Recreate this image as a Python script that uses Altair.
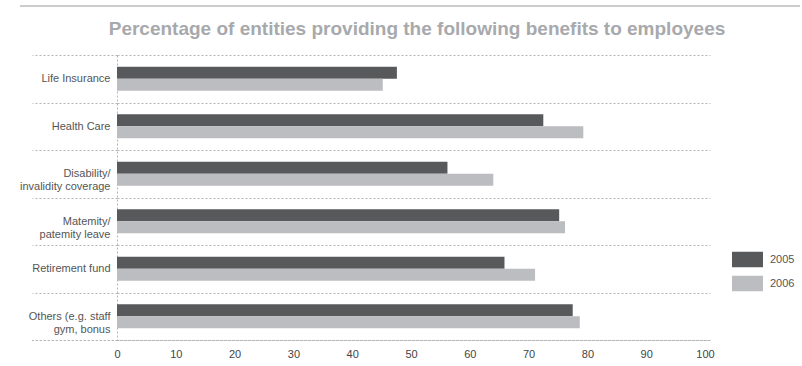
import altair as alt
import pandas as pd

categories = ["Life Insurance", "Health Care", "Disability/|invalidity coverage",
              "Matemity/|patemity leave", "Retirement fund", "Others (e.g. staff|gym, bonus"]
years = ["2005", "2006"]
values_2005 = [47.6, 72.5, 56.2, 75.2, 65.9, 77.5]
values_2006 = [45.2, 79.3, 64.0, 76.2, 71.1, 78.7]
x_ticks = [0, 10, 20, 30, 40, 50, 60, 70, 80, 90, 100]
title_text = "Percentage of entities providing the following benefits to employees"

rows = []
for c, a, b in zip(categories, values_2005, values_2006):
    rows.append({"benefit": c, "year": "2005", "pct": a})
    rows.append({"benefit": c, "year": "2006", "pct": b})
df = pd.DataFrame(rows)

DARK = "#58595b"
LIGHT = "#bcbdc0"
GRID = "#b5b5b5"
FONT = "Liberation Sans"

bars = alt.Chart(df).mark_bar(size=12).encode(
    x=alt.X("pct:Q",
            scale=alt.Scale(domain=[0, 100.85], nice=False, zero=True),
            axis=alt.Axis(values=x_ticks, title=None, domain=False, ticks=False, grid=False,
                          labelFont=FONT, labelFontSize=11, labelColor="#444444",
                          labelPadding=8, labelFlush=False)),
    y=alt.Y("benefit:N", sort=categories,
            scale=alt.Scale(paddingInner=0, paddingOuter=0),
            axis=alt.Axis(title=None, tickBand="extent", tickSize=85, tickDash=[2, 2],
                          tickColor=GRID, tickWidth=1,
                          grid=True, gridDash=[2, 2], gridColor=GRID, gridWidth=1,
                          domain=True, domainDash=[2, 2], domainColor=GRID, domainWidth=1,
                          labelPadding=-78, labelFont=FONT, labelFontSize=11,
                          labelColor="#555555", labelLineHeight=13,
                          labelExpr="split(datum.label, '|')")),
    yOffset=alt.YOffset("year:N", sort=years,
                        scale=alt.Scale(paddingInner=0, paddingOuter=0.98)),
    color=alt.Color("year:N", sort=years,
                    scale=alt.Scale(domain=years, range=[DARK, LIGHT]),
                    legend=alt.Legend(title=None, orient="none", legendX=615, legendY=189,
                                      symbolType="M-1,-0.5H1V0.5H-1Z", symbolSize=961,
                                      symbolStrokeWidth=0, symbolOpacity=1,
                                      labelFont=FONT, labelFontSize=11, labelColor="#555555",
                                      labelOffset=7, rowPadding=-20)),
)

one = pd.DataFrame({"k": [0]})

top_line = alt.Chart(one).mark_rule(color="#cccccc", strokeWidth=2).encode(
    x=alt.value(-97), x2=alt.value(683), y=alt.value(-49)
)

bottom_line = alt.Chart(one).mark_rule(color=GRID, strokeWidth=1, strokeDash=[2, 2]).encode(
    x=alt.value(-85), x2=alt.value(593), y=alt.value(285.5)
)

title = alt.Chart(pd.DataFrame({"t": [title_text]})).mark_text(
    font=FONT, fontSize=19, fontWeight="bold", color="#a7a9ac",
    align="center", baseline="alphabetic"
).encode(text="t:N", x=alt.value(300), y=alt.value(-20))

chart = alt.layer(bars, top_line, bottom_line, title).properties(
    width=593, height=285,
    autosize=alt.AutoSizeParams(type="none"),
    padding={"left": 117, "top": 55, "right": 92, "bottom": 26},
    background="white",
).configure_view(stroke=None)

chart.save("out.html", embed_options={"renderer": "svg", "actions": False})
